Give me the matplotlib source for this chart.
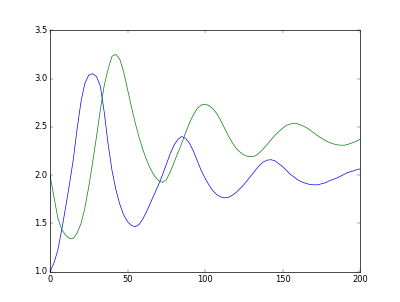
import matplotlib
matplotlib.use("Agg")
import matplotlib.pyplot as plt

plt.style.use("classic")

t = [i * 2.5 for i in range(81)]

blue = [1.0, 1.09, 1.22, 1.43, 1.66, 1.90, 2.16, 2.48, 2.76, 2.95,
        3.035, 3.05, 3.02, 2.92, 2.65, 2.32, 2.05, 1.85, 1.70, 1.59,
        1.52, 1.48, 1.467, 1.49, 1.55, 1.63, 1.72, 1.81, 1.90, 2.00,
        2.11, 2.22, 2.31, 2.37, 2.40, 2.38, 2.33, 2.25, 2.15, 2.05,
        1.97, 1.90, 1.84, 1.80, 1.775, 1.765, 1.77, 1.79, 1.82, 1.86,
        1.90, 1.95, 2.00, 2.05, 2.10, 2.135, 2.155, 2.16, 2.15, 2.12,
        2.09, 2.05, 2.01, 1.98, 1.95, 1.93, 1.915, 1.905, 1.90, 1.90,
        1.91, 1.92, 1.94, 1.955, 1.97, 1.99, 2.01, 2.03, 2.04, 2.055,
        2.065]

green = [2.0, 1.78, 1.56, 1.44, 1.38, 1.345, 1.345, 1.40, 1.50, 1.66,
         1.88, 2.13, 2.40, 2.68, 2.93, 3.10, 3.23, 3.25, 3.20, 3.07,
         2.89, 2.71, 2.54, 2.39, 2.26, 2.15, 2.06, 1.99, 1.945, 1.925,
         1.95, 2.03, 2.13, 2.23, 2.33, 2.44, 2.54, 2.625, 2.69, 2.725,
         2.735, 2.72, 2.69, 2.64, 2.57, 2.49, 2.41, 2.34, 2.28, 2.24,
         2.21, 2.195, 2.19, 2.20, 2.23, 2.27, 2.315, 2.365, 2.41, 2.45,
         2.485, 2.515, 2.53, 2.535, 2.53, 2.515, 2.495, 2.47, 2.44, 2.41,
         2.385, 2.36, 2.34, 2.325, 2.315, 2.31, 2.31, 2.32, 2.335, 2.35,
         2.37]

fig = plt.figure(figsize=(8, 6.04), dpi=50, facecolor="white")
ax = fig.add_subplot(111)
ax.plot(t, blue, color="b", linewidth=1.0)
ax.plot(t, green, color="g", linewidth=1.0)
ax.set_xlim(0, 200)
ax.set_ylim(1.0, 3.5)
ax.set_xticks([0, 50, 100, 150, 200])
ax.set_yticks([1.0, 1.5, 2.0, 2.5, 3.0, 3.5])
fig.savefig("out.png", dpi=50, facecolor="white")
